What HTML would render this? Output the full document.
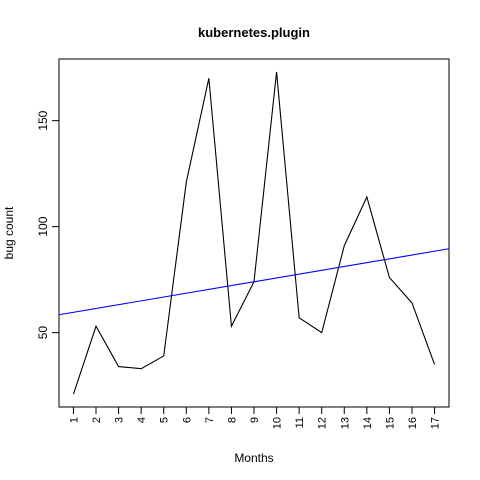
<!DOCTYPE html>
<html><head><meta charset="utf-8"><style>
body{margin:0;background:#fff}
svg{display:block;font-family:"Liberation Sans",Arial,sans-serif}
</style></head><body>
<svg id="c" width="480" height="480">
<text x="254" y="37" text-anchor="middle" font-size="13" font-weight="bold">kubernetes.plugin</text>
<text x="254" y="462" text-anchor="middle" font-size="12">Months</text>
<text transform="translate(13,233) rotate(-90)" text-anchor="middle" font-size="12">bug count</text>
<rect x="59" y="59" width="390" height="348" fill="none" stroke="#000"/>
<g id="axes"></g>
<g id="marks"></g>
</svg>
<script>
const months = [1,2,3,4,5,6,7,8,9,10,11,12,13,14,15,16,17];
const bugCounts = [21,53,34,33,39,121,170,53,74,173,57,50,91,114,76,64,35];
const yTicks = [50,100,150];
const NS="http://www.w3.org/2000/svg";
const L=59,R=449,T=59,B=407;
const xmin=Math.min(...months),xmax=Math.max(...months);
const ymin=Math.min(...bugCounts),ymax=Math.max(...bugCounts);
const xpad=(xmax-xmin)*0.04,ypad=(ymax-ymin)*0.04;
const x0=xmin-xpad,x1=xmax+xpad,y0=ymin-ypad,y1=ymax+ypad;
const sx=v=>L+(v-x0)/(x1-x0)*(R-L);
const sy=v=>B-(v-y0)/(y1-y0)*(B-T);
function mk(t,a,p){const e=document.createElementNS(NS,t);for(const k in a)e.setAttribute(k,a[k]);p.appendChild(e);return e;}
const ax=document.getElementById('axes'),mg=document.getElementById('marks');
months.forEach(m=>{
  const x=sx(m);
  const tk=mk('line',{x1:x,x2:x,y1:B,y2:B+7,stroke:'#000'},ax);
  
  
  const t=mk('text',{transform:`translate(${x+4},${B+10}) rotate(-90)`,'text-anchor':'end','font-size':'11'},ax);
  t.textContent=m;
  
  
});
yTicks.forEach(v=>{
  const y=sy(v);
  const tk=mk('line',{x1:L-7,x2:L,y1:y,y2:y,stroke:'#000'},ax);
  
  
  const t=mk('text',{transform:`translate(${L-12},${y}) rotate(-90)`,'text-anchor':'middle','font-size':'12'},ax);
  t.textContent=v;
  
  
});
const pts=months.map((m,i)=>sx(m)+','+sy(bugCounts[i])).join(' ');
const pl=mk('polyline',{points:pts,fill:'none',stroke:'#000','stroke-width':1.1},mg);


const n=months.length,mx=months.reduce((a,b)=>a+b)/n,my=bugCounts.reduce((a,b)=>a+b)/n;
let sxy=0,sxx=0;months.forEach((m,i)=>{sxy+=(m-mx)*(bugCounts[i]-my);sxx+=(m-mx)**2;});
const b=sxy/sxx,a=my-b*mx;
const rl=mk('line',{x1:L,y1:sy(a+b*x0),x2:R,y2:sy(a+b*x1),stroke:'#0000ff','stroke-width':1.1},mg);


</script>
</body></html>
